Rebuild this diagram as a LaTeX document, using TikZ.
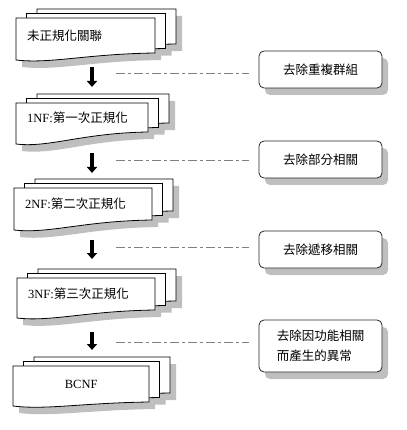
\documentclass[tikz,border=0pt]{standalone}
\usepackage{fontspec}
\usepackage{tikz}
\usetikzlibrary{arrows.meta,positioning,shadows}
\setmainfont{Liberation Serif}
\newfontfamily\cjk{Noto Sans CJK TC}

% one sheet: top-left corner, width, height, dip of the wavy bottom
\newcommand\pagepath[5]{({#1},{#2}) -- ({#1+#3},{#2}) -- ({#1+#3},{#2+#4})
  .. controls ({#1+0.5*#3},{#2+#4+1}) and ({#1+0.25*#3},{#2+#4+#5+4}) .. ({#1},{#2+#4+#5}) -- cycle}

% stack of three sheets, front sheet named #1
\newcommand\docstack[8]{%
  \foreach \k in {2,1,0}
    \fill[pageshade] \pagepath{#2+\k*10.5+6}{#3-\k*4.5+7}{#4}{#5}{#6};
  \foreach \k in {2,1,0}
    \filldraw[pagesheet] \pagepath{#2+\k*10.5}{#3-\k*4.5}{#4}{#5}{#6};
  \node[doctext, minimum width=#4pt, minimum height=#5pt] (#1) at (#2,#3)
    {\makebox[\dimexpr#4pt-22pt\relax][#7]{#8}};
}

\begin{document}
\begin{tikzpicture}[
  x=1pt, y=-1pt,
  pagesheet/.style={fill=white, draw=black, line width=0.8pt},
  pageshade/.style={fill=black!25},
  doctext/.style={inner sep=0pt, anchor=north west,
                  font=\cjk\fontsize{12.5}{15}\selectfont},
  note/.style={rectangle, rounded corners=5pt, draw=black!85, line width=0.8pt,
               fill=white, minimum width=123pt, minimum height=37pt,
               align=left, inner sep=0pt, font=\cjk\fontsize{12.5}{20}\selectfont,
               drop shadow={shadow xshift=6pt, shadow yshift=-7pt,
                            fill=black!25, opacity=1}},
  arr/.style={line width=3.5pt, -{Triangle[length=6pt, width=10pt]}},
  link/.style={draw=black!50, line width=0.9pt,
               dash pattern=on 9pt off 3pt on 3pt off 3pt, shorten >=10pt}
]
  \useasboundingbox (0,0) rectangle (406,430);

  \docstack{d1}{16}{18}{139}{35}{7}{l}{未正規化關聯}
  \docstack{d2}{16}{103}{132}{29}{12}{l}{{\rmfamily 1NF:}第一次正規化}
  \docstack{d3}{14}{188}{138}{32}{10}{l}{{\rmfamily 2NF:}第二次正規化}
  \docstack{d4}{17}{278}{138}{32}{8}{l}{{\rmfamily 3NF:}第三次正規化}
  \docstack{d5}{13}{366}{136}{36}{4}{c}{{\rmfamily BCNF}}

  \node[note] (b1) at (320.5,69.5)  {去除重複群組};
  \node[note] (b2) at (320.5,159.5) {去除部分相關};
  \node[note] (b3) at (320.5,249.5) {去除遞移相關};
  \node[note, minimum height=52pt] (b4) at (320.5,346) {去除因功能相關\\而產生的異常};

  \coordinate (axis) at (92,0);
  \foreach \y [count=\i] in {73,160,247,342}
    \coordinate (l\i) at (116,\y);
  \foreach \i in {1,...,4}
    \draw[link] (l\i) -- (l\i -| b\i.west);

  \foreach \a/\b/\p/\q in {d1/d2/14/16, d2/d3/21/15, d3/d4/20/19, d4/d5/22/16}
    \draw[arr, shorten <=\p pt, shorten >=\q pt] (\a.south -| axis) -- (\b.north -| axis);
\end{tikzpicture}
\end{document}
